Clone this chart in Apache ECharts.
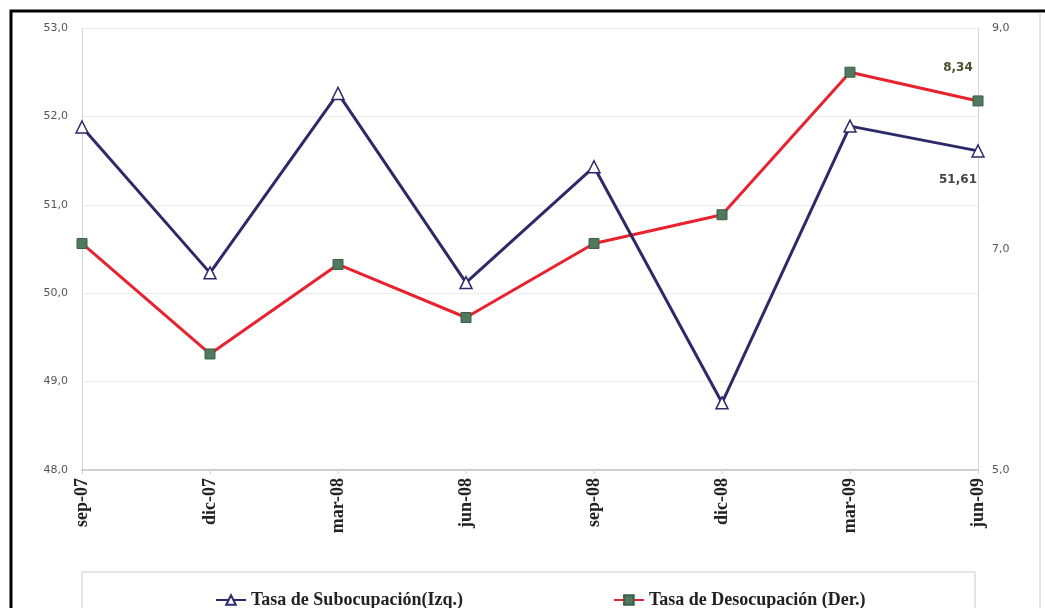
<!DOCTYPE html>
<html lang="es">
<head>
    <meta charset="UTF-8">
    <title>Tasa de Subocupación y Desocupación</title>
    <style>
        html, body {
            margin: 0;
            padding: 0;
            background: #ffffff;
        }

        #myEcharts {
            width: 1045px;
            height: 608px;
        }
    </style>
    <script src="https://cdn.jsdelivr.net/npm/echarts@6/dist/echarts.min.js"></script>
</head>
<body>
<div id="myEcharts"></div>

<script>
    // trimestres
    var periodos = ['sep-07', 'dic-07', 'mar-08', 'jun-08', 'sep-08', 'dic-08', 'mar-09', 'jun-09'];
    // Tasa de Subocupación (eje izquierdo)
    var subocupacion = [51.88, 50.23, 52.26, 50.12, 51.43, 48.76, 51.89, 51.61];
    // Tasa de Desocupación (eje derecho)
    var desocupacion = [7.05, 6.05, 6.86, 6.38, 7.05, 7.31, 8.60, 8.34];
    // rango de los ejes
    var ejeIzq = {min: 48, max: 53, interval: 1};
    var ejeDer = {min: 5, max: 9, interval: 2};

    // número con coma decimal
    function coma(v, dec) {
        return Number(v).toFixed(dec).replace('.', ',');
    }

    // solo el último punto lleva etiqueta
    function conEtiqueta(arr, pos) {
        return arr.map(function (v, i) {
            if (i !== arr.length - 1) return v;
            return {
                value: v,
                label: {
                    show: true,
                    position: pos,
                    distance: pos === 'top' ? 22 : 16,
                    offset: [-20, 0],
                    formatter: function (p) { return coma(p.value, 2); },
                    fontFamily: 'DejaVu Sans',
                    fontWeight: 'bold',
                    fontSize: 12,
                    color: pos === 'top' ? '#4d4d2e' : '#444'
                }
            };
        });
    }

    var myChart = echarts.init(document.getElementById('myEcharts'));

    var option = {
        backgroundColor: '#ffffff',
        animation: false,
        // marco y caja de leyenda
        graphic: [
            {
                type: 'polyline',
                shape: {points: [[11, 620], [11, 11], [1045, 11]]},
                style: {fill: 'none', stroke: '#000', lineWidth: 3},
                z: -1
            },
            {
                type: 'line',
                shape: {x1: 1040, y1: 12, x2: 1040, y2: 608},
                style: {stroke: '#cccccc', lineWidth: 1},
                z: -1
            },
            {
                type: 'rect',
                shape: {x: 82, y: 572, width: 893, height: 60},
                style: {fill: '#fff', stroke: '#dcdcdc', lineWidth: 1.5},
                z: -1
            }
        ],
        grid: {
            left: 82,
            right: 67,
            top: 28,
            bottom: 138
        },
        legend: {
            left: 210,
            top: 586,
            itemGap: 150,
            itemWidth: 30,
            itemHeight: 12,
            textStyle: {
                fontFamily: 'Liberation Serif',
                fontWeight: 'bold',
                fontSize: 18,
                color: '#222'
            },
            data: ['Tasa de Subocupación(Izq.)', 'Tasa de Desocupación (Der.)']
        },
        xAxis: {
            type: 'category',
            boundaryGap: false,
            data: periodos,
            axisLine: {lineStyle: {color: '#cfcfcf', width: 2}},
            axisTick: {show: true, length: 4, lineStyle: {color: '#cfcfcf'}},
            axisLabel: {
                rotate: 90,
                margin: 8,
                fontFamily: 'Liberation Serif',
                fontWeight: 'bold',
                fontSize: 18,
                color: '#222'
            },
            splitLine: {show: false}
        },
        yAxis: [
            {
                type: 'value',
                min: ejeIzq.min,
                max: ejeIzq.max,
                interval: ejeIzq.interval,
                axisLine: {show: true, lineStyle: {color: '#d6d6d6'}},
                axisTick: {show: false},
                axisLabel: {
                    margin: 14,
                    fontFamily: 'DejaVu Sans',
                    fontSize: 11,
                    color: '#555',
                    formatter: function (v) { return coma(v, 1); }
                },
                splitLine: {lineStyle: {color: '#ececec'}}
            },
            {
                type: 'value',
                min: ejeDer.min,
                max: ejeDer.max,
                interval: ejeDer.interval,
                axisLine: {show: true, lineStyle: {color: '#d6d6d6'}},
                axisTick: {show: false},
                axisLabel: {
                    margin: 14,
                    fontFamily: 'DejaVu Sans',
                    fontSize: 11,
                    color: '#555',
                    formatter: function (v) { return coma(v, 1); }
                },
                splitLine: {show: false}
            }
        ],
        series: [
            {
                name: 'Tasa de Subocupación(Izq.)',
                type: 'line',
                yAxisIndex: 0,
                data: conEtiqueta(subocupacion, 'bottom'),
                symbol: 'triangle',
                symbolSize: 12,
                lineStyle: {color: '#2c2a68', width: 3},
                itemStyle: {color: '#ffffff', borderColor: '#2c2a68', borderWidth: 1.5},
                z: 3
            },
            {
                name: 'Tasa de Desocupación (Der.)',
                type: 'line',
                yAxisIndex: 1,
                data: conEtiqueta(desocupacion, 'top'),
                symbol: 'rect',
                symbolSize: 10,
                lineStyle: {color: '#e8222e', width: 3},
                itemStyle: {color: '#4f7a5f', borderColor: '#3c5f48', borderWidth: 1},
                z: 2
            }
        ]
    };

    myChart.setOption(option);
</script>
</body>
</html>
